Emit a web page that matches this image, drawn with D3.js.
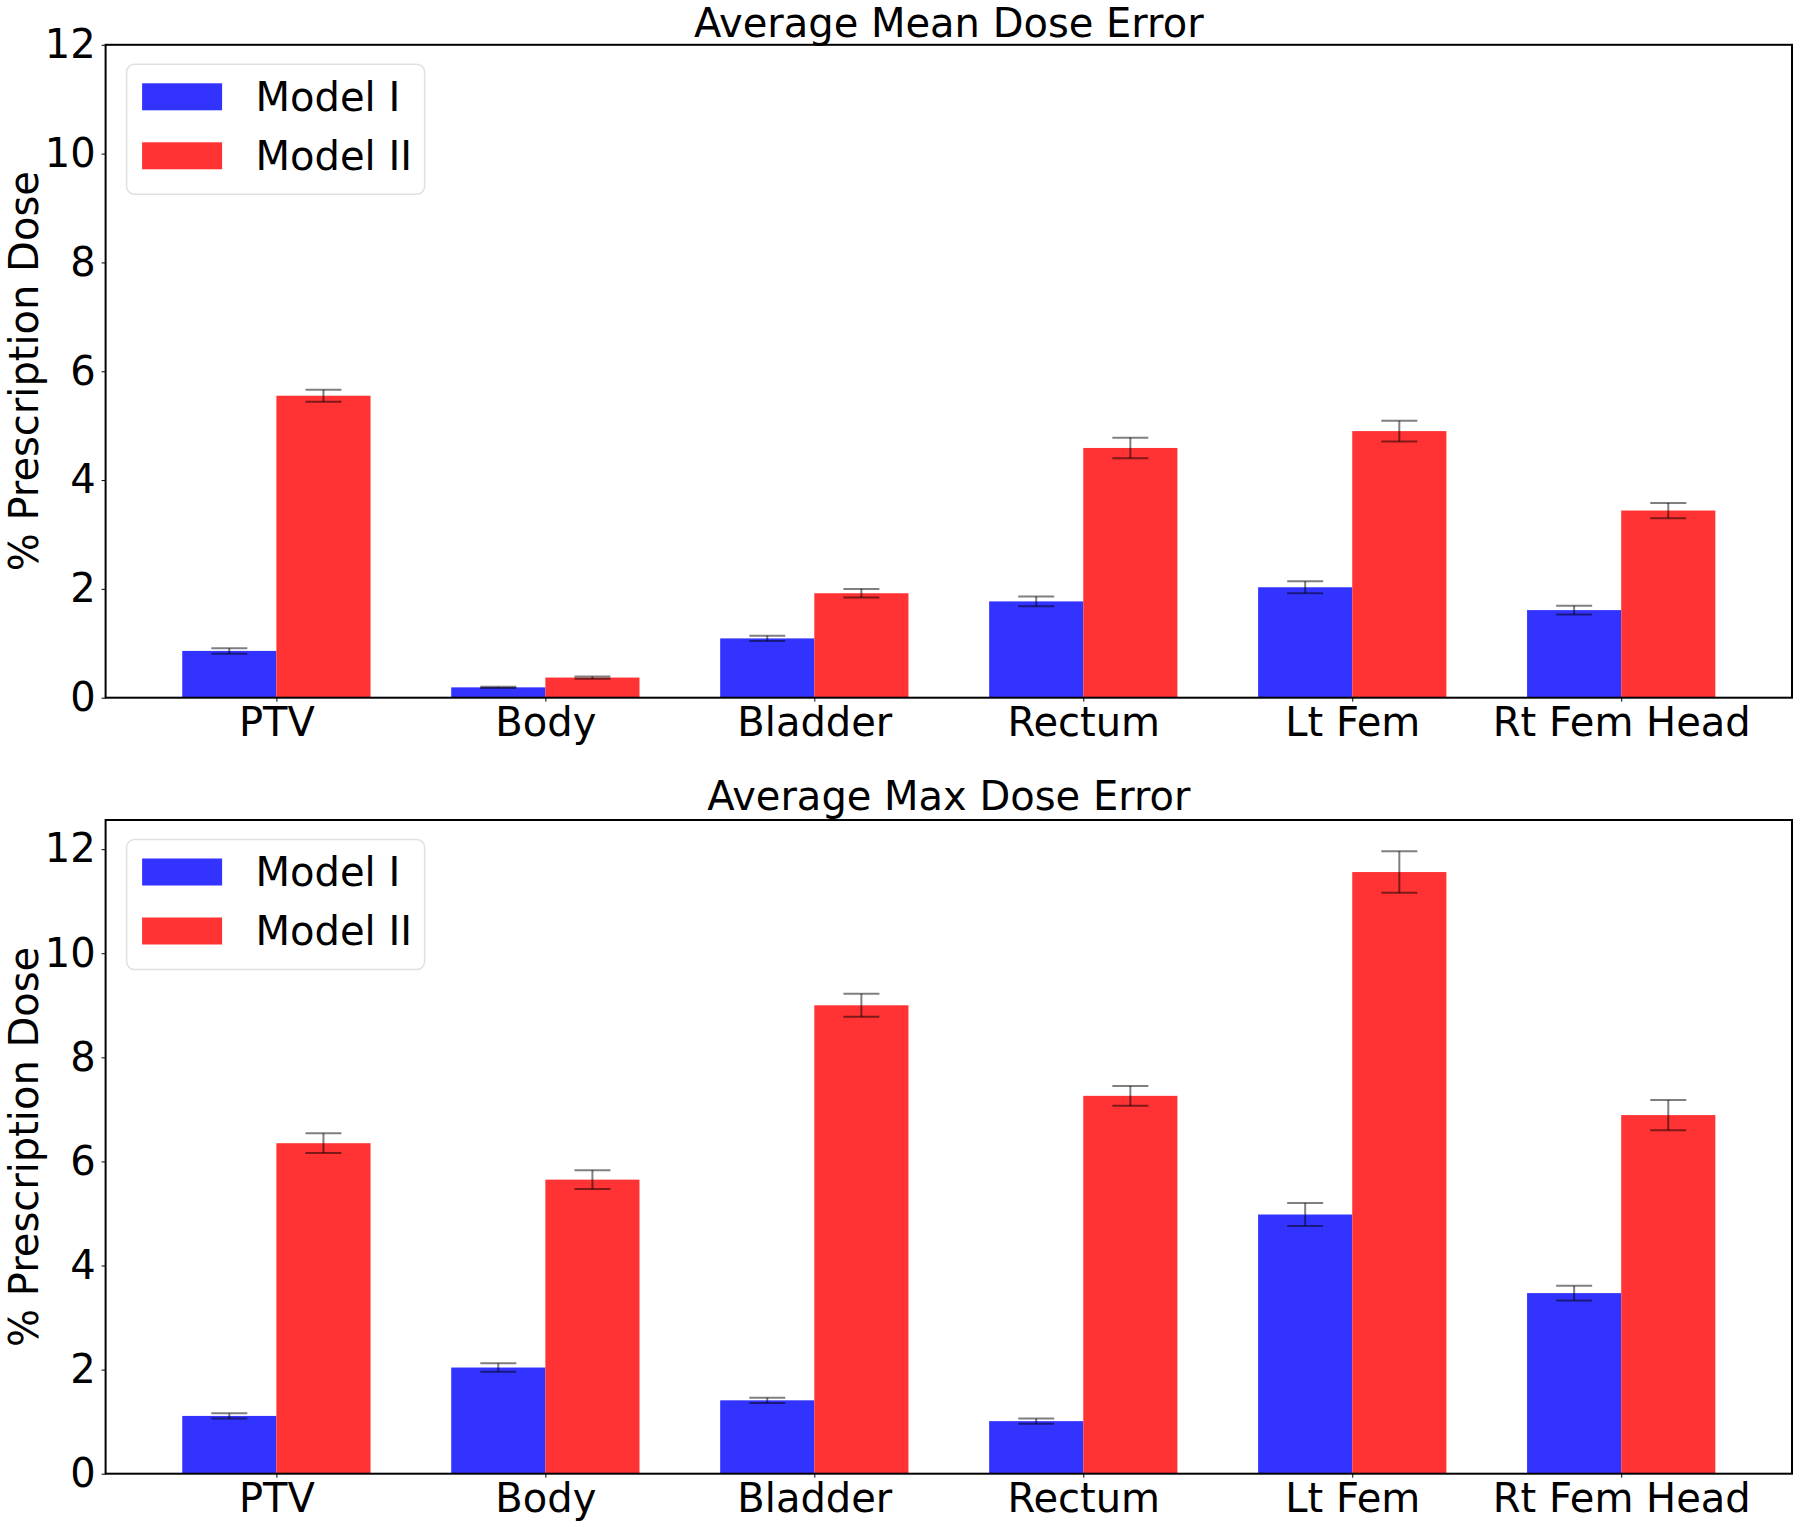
<!DOCTYPE html>
<html>
<head>
<meta charset="utf-8">
<script src="https://cdn.jsdelivr.net/npm/d3@7"></script>
<style>
  html, body { margin: 0; padding: 0; background: #fff; }
  svg { display: block; font-family: "DejaVu Sans", sans-serif; }
</style>
</head>
<body>
<svg id="chart" width="1800" height="1527"></svg>
<script>
const categories = ["PTV", "Body", "Bladder", "Rectum", "Lt Fem", "Rt Fem Head"];
const seriesNames = ["Model I", "Model II"];

const meanModelI = [0.86, 0.19, 1.09, 1.77, 2.03, 1.61];
const meanModelIErr = [0.05, 0.01, 0.05, 0.09, 0.11, 0.08];
const meanModelII = [5.55, 0.37, 1.92, 4.59, 4.90, 3.44];
const meanModelIIErr = [0.11, 0.02, 0.08, 0.19, 0.19, 0.14];

const maxModelI = [1.11, 2.04, 1.41, 1.01, 4.98, 3.47];
const maxModelIErr = [0.05, 0.08, 0.05, 0.05, 0.22, 0.14];
const maxModelII = [6.35, 5.65, 9.00, 7.26, 11.56, 6.89];
const maxModelIIErr = [0.19, 0.18, 0.22, 0.19, 0.40, 0.29];

const yTicks = [0, 2, 4, 6, 8, 10, 12];

const svg = d3.select("#chart");
const colors = ["rgb(51,51,255)", "rgb(255,51,51)"];
const barW = 0.35;
const FONT = 40;

function panel(opts) {
  const { top, bottom, left, right, ymax, title, titleGap, s1, e1, s2, e2 } = opts;
  const g = svg.append("g");
  const x = d3.scaleLinear().domain([-0.635, categories.length - 1 + 0.635]).range([left, right]);
  const y = d3.scaleLinear().domain([0, ymax]).range([bottom, top]);

  const series = [
    { vals: s1, errs: e1, off: -barW, color: colors[0] },
    { vals: s2, errs: e2, off: 0, color: colors[1] }
  ];

  series.forEach(s => {
    g.selectAll(null).data(s.vals).enter().append("rect")
      .attr("x", (d, i) => x(i + s.off))
      .attr("width", x(barW) - x(0))
      .attr("y", d => y(d))
      .attr("height", d => y(0) - y(d))
      .attr("fill", s.color);
  });

  // error bars
  const capHalf = 18;
  series.forEach(s => {
    const eg = g.append("g").attr("stroke", "rgba(0,0,0,0.5)").attr("stroke-width", 2);
    s.vals.forEach((v, i) => {
      const cx = x(i + s.off + barW / 2);
      const y1 = y(v + s.errs[i]), y2 = y(v - s.errs[i]);
      eg.append("line").attr("x1", cx).attr("x2", cx).attr("y1", y1).attr("y2", y2);
      eg.append("line").attr("x1", cx - capHalf).attr("x2", cx + capHalf).attr("y1", y1).attr("y2", y1);
      eg.append("line").attr("x1", cx - capHalf).attr("x2", cx + capHalf).attr("y1", y2).attr("y2", y2);
    });
  });

  // axes
  const yAxis = d3.axisLeft(y).tickValues(yTicks).tickFormat(d3.format("d")).tickSize(4).tickPadding(6);
  const ya = g.append("g").attr("transform", `translate(${left},0)`).call(yAxis);
  ya.select(".domain").remove();
  ya.selectAll("text").attr("font-size", FONT).attr("fill", "#000").attr("font-family", "DejaVu Sans");
  ya.selectAll("line").attr("stroke", "#000");

  const xAxis = d3.axisBottom(x).tickValues(d3.range(categories.length)).tickFormat(i => categories[i]).tickSize(4).tickPadding(6);
  const xa = g.append("g").attr("transform", `translate(0,${bottom})`).call(xAxis);
  xa.select(".domain").remove();
  xa.selectAll("text").attr("font-size", FONT).attr("fill", "#000").attr("font-family", "DejaVu Sans");
  xa.selectAll("line").attr("stroke", "#000");

  // frame
  g.append("rect").attr("x", left).attr("y", top).attr("width", right - left).attr("height", bottom - top)
    .attr("fill", "none").attr("stroke", "#000").attr("stroke-width", 2);

  // title
  g.append("text").attr("x", (left + right) / 2).attr("y", top - titleGap)
    .attr("text-anchor", "middle").attr("font-size", FONT).attr("fill", "#000").text(title);

  // y label
  g.append("text").attr("transform", `translate(38,${(top + bottom) / 2}) rotate(-90)`)
    .attr("text-anchor", "middle").attr("font-size", FONT).attr("fill", "#000").text("% Prescription Dose");

  // legend
  const lx = left + 21, ly = top + 19.5;
  const lg = g.append("g");
  lg.append("rect").attr("x", lx).attr("y", ly).attr("width", 298).attr("height", 130).attr("rx", 8)
    .attr("fill", "rgba(255,255,255,0.8)").attr("stroke", "#e0e0e0").attr("stroke-width", 1.5);
  seriesNames.forEach((n, k) => {
    lg.append("rect").attr("x", lx + 15.5).attr("y", ly + 19 + k * 59).attr("width", 80).attr("height", 27).attr("fill", colors[k]);
    lg.append("text").attr("x", lx + 129).attr("y", ly + 46.5 + k * 59).attr("font-size", FONT).attr("fill", "#000").text(n);
  });
}

panel({ top: 44.8, bottom: 697.7, left: 105.6, right: 1792, ymax: 12, title: "Average Mean Dose Error", titleGap: 7.5,
  s1: meanModelI, e1: meanModelIErr, s2: meanModelII, e2: meanModelIIErr });
panel({ top: 820, bottom: 1473.7, left: 105.6, right: 1792, ymax: 12.56, title: "Average Max Dose Error", titleGap: 10,
  s1: maxModelI, e1: maxModelIErr, s2: maxModelII, e2: maxModelIIErr });
</script>
</body>
</html>
